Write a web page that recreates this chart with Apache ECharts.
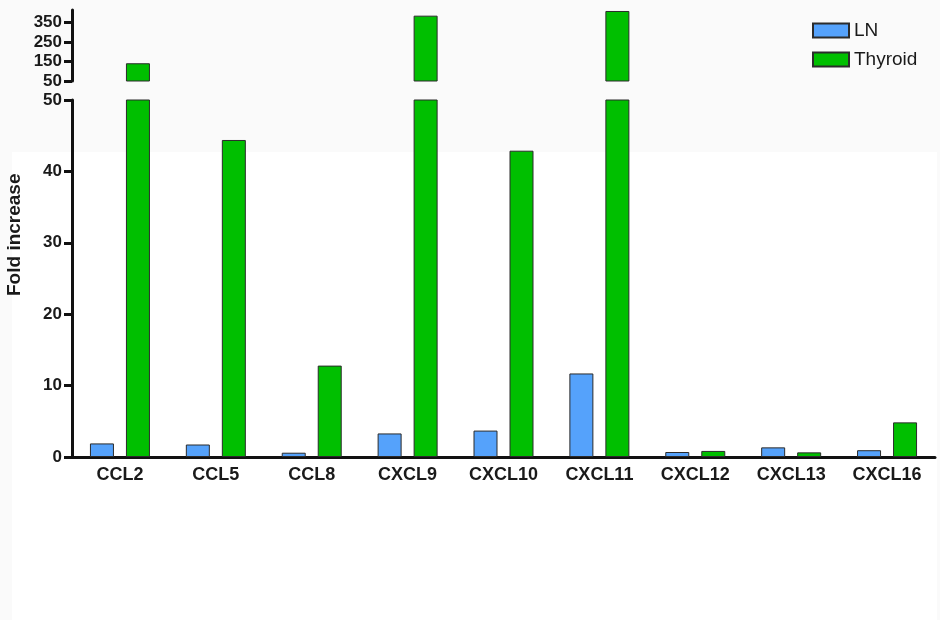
<!DOCTYPE html>
<html>
<head>
<meta charset="utf-8">
<script src="https://cdn.jsdelivr.net/npm/echarts@6/dist/echarts.min.js"></script>
<style>
  html, body { margin: 0; padding: 0; background: #fafafa; }
  #chart { width: 940px; height: 620px; }
</style>
</head>
<body>
<div id="chart"></div>
<script>
// chemokines on the x axis
const categories = ['CCL2', 'CCL5', 'CCL8', 'CXCL9', 'CXCL10', 'CXCL11', 'CXCL12', 'CXCL13', 'CXCL16'];
// fold increase
const lnValues = [1.9, 1.75, 0.6, 3.3, 3.7, 11.7, 0.7, 1.35, 0.95];
const thyroidValues = [141, 44.4, 12.8, 385, 42.9, 409, 0.85, 0.65, 4.85];
// top (broken) segment ticks
const upperTicks = [50, 150, 250, 350];
const breakAt = 50;

const blue = '#55a2fb';
const green = '#00bf00';
const border = '#2b2b2b';
const fontFamily = 'Liberation Sans, Arial, sans-serif';
const yFont = { color: '#1a1a1a', fontSize: 17, fontWeight: 'bold', fontFamily: fontFamily };
const xFont = { color: '#1a1a1a', fontSize: 18, fontWeight: 'bold', fontFamily: fontFamily };
const axisColor = '#111';

const chart = echarts.init(document.getElementById('chart'));

// only the part above the break goes to the top panel
const aboveBreak = arr => arr.map(v => (v > breakAt ? v : '-'));

function barSeries(name, data, color, idx) {
    return {
        name: name,
        type: 'bar',
        xAxisIndex: idx,
        yAxisIndex: idx,
        data: data,
        barWidth: 24,
        barGap: '50%',
        clip: true,
        animation: false,
        itemStyle: { color: color, borderColor: border, borderWidth: 1 }
    };
}

const option = {
    backgroundColor: '#fafafa',
    animation: false,
    graphic: [
        { type: 'rect', left: 12, top: 152, shape: { width: 925, height: 468 }, style: { fill: '#ffffff' }, z: -10 },
        {
            type: 'text',
            rotation: Math.PI / 2,
            position: [5, 296],
            style: { text: 'Fold increase', fill: '#1a1a1a', font: 'bold 19px ' + fontFamily, textAlign: 'left', textVerticalAlign: 'top' }
        }
    ],
    legend: {
        orient: 'vertical',
        left: 812,
        top: 21,
        padding: 0,
        itemWidth: 36,
        itemHeight: 14,
        itemGap: 10,
        icon: 'rect',
        data: ['LN', 'Thyroid'],
        textStyle: { color: '#1a1a1a', fontSize: 19, fontFamily: fontFamily }
    },
    grid: [
        { left: 72, right: 5, top: 10, height: 71 },
        { left: 72, right: 5, top: 100, height: 357 }
    ],
    xAxis: [
        {
            type: 'category', gridIndex: 0, data: categories, show: false
        },
        {
            type: 'category', gridIndex: 1, data: categories,
            axisLine: { lineStyle: { color: axisColor, width: 3 } },
            axisTick: { alignWithLabel: true, length: 6, lineStyle: { color: axisColor, width: 3 } },
            axisLabel: Object.assign({ margin: 9 }, xFont)
        }
    ],
    yAxis: [
        {
            type: 'value', gridIndex: 0, min: breakAt, max: 414,
            splitLine: { show: false },
            axisLine: { show: true, lineStyle: { color: axisColor, width: 3 } },
            axisTick: { show: true, length: 8, customValues: upperTicks, lineStyle: { color: axisColor, width: 3 } },
            axisLabel: Object.assign({ margin: 10, customValues: upperTicks }, yFont)
        },
        {
            type: 'value', gridIndex: 1, min: 0, max: breakAt, interval: 10,
            splitLine: { show: false },
            axisLine: { show: true, lineStyle: { color: axisColor, width: 3 } },
            axisTick: { show: true, length: 8, lineStyle: { color: axisColor, width: 3 } },
            axisLabel: Object.assign({ margin: 10 }, yFont)
        }
    ],
    series: [
        barSeries('LN', aboveBreak(lnValues), blue, 0),
        barSeries('Thyroid', aboveBreak(thyroidValues), green, 0),
        barSeries('LN', lnValues, blue, 1),
        barSeries('Thyroid', thyroidValues, green, 1)
    ]
};

chart.setOption(option);
</script>
</body>
</html>
